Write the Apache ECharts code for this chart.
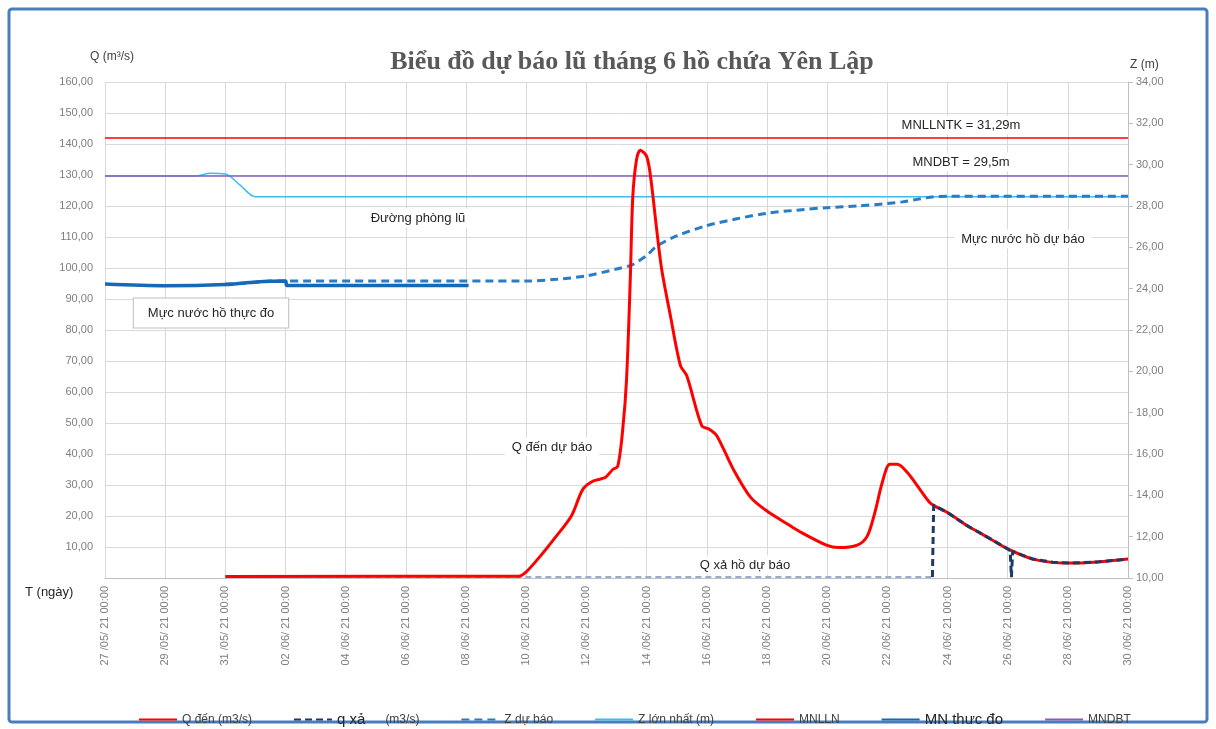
<!DOCTYPE html>
<html>
<head>
<meta charset="utf-8">
<title>Biểu đồ dự báo lũ tháng 6 hồ chứa Yên Lập</title>
<script src="https://cdn.jsdelivr.net/npm/echarts@6/dist/echarts.min.js"></script>
<style>
  html, body { margin: 0; padding: 0; background: #fff; }
  #chart { width: 1216px; height: 729px; }
</style>
</head>
<body>
<div id="chart"></div>
<script>
// thời gian dạng 'dd/mm hh:mm' (năm 2021), trục X tính theo ngày kể từ 27/05/2021
const qDenTime = ['31/05 00:00', '09/06 18:00', '10/06 00:00', '10/06 09:00', '10/06 21:00', '11/06 12:00',
  '11/06 21:00', '12/06 05:00', '12/06 15:00', '12/06 21:00', '13/06 01:00', '13/06 05:00', '13/06 08:00',
  '13/06 11:00', '13/06 13:00', '13/06 16:00', '13/06 19:00', '14/06 00:00', '14/06 03:00', '14/06 08:00',
  '14/06 12:00', '14/06 19:00', '15/06 03:00', '15/06 08:00', '15/06 20:00', '16/06 02:00', '16/06 08:00',
  '16/06 21:00', '17/06 11:00', '18/06 00:00', '18/06 16:00', '19/06 02:00', '20/06 00:00', '20/06 09:00',
  '21/06 00:00', '21/06 08:00', '21/06 14:00', '21/06 20:00', '22/06 02:00', '22/06 08:00', '22/06 16:00',
  '23/06 02:00', '23/06 10:00', '23/06 14:00', '24/06 00:00', '24/06 16:00', '25/06 00:00', '25/06 12:00',
  '26/06 00:00', '26/06 20:00', '28/06 00:00', '29/06 00:00', '30/06 00:00'];
const qDen = [0.5, 0.6, 2.0, 6.0, 12.0, 20.0,
  28.5, 31.2, 32.4, 35.0, 36.0, 48.0, 64.0,
  96.5, 123.0, 135.0, 138.0, 136.0, 130.0, 112.6,
  99.7, 84.6, 68.5, 65.3, 49.1, 48.0, 45.9,
  35.2, 26.0, 21.6, 17.5, 15.0, 10.5, 9.8,
  10.6, 13.5, 21.0, 30.8, 36.7, 36.7, 34.0,
  28.6, 24.3, 23.2, 21.1, 16.8, 15.0, 12.2,
  9.4, 6.1, 4.8, 5.2, 6.1];

// q xả: đoạn chưa xả (gần 0) và đoạn xả từ 23/06
const qXaTruocTime = ['31/05 00:00', '23/06 12:00'];
const qXaTruoc = [0.3, 0.3];
const qXaTime = ['23/06 12:00', '23/06 13:00', '24/06 00:00', '24/06 16:00', '25/06 00:00',
  '25/06 12:00', '26/06 00:00', '26/06 02:00', '26/06 03:00', '26/06 04:00', '26/06 20:00', '27/06 12:00',
  '28/06 00:00', '29/06 00:00', '30/06 00:00'];
const qXa = [0.3, 23.5, 21.1, 16.8, 15.0,
  12.2, 9.4, 8.8, 0.3, 8.6, 6.1, 5.1,
  4.8, 5.2, 6.1];

const zDuBaoTime = ['31/05 00:00', '01/06 00:00', '01/06 12:00', '10/06 00:00', '11/06 00:00', '12/06 00:00',
  '13/06 00:00', '13/06 12:00', '13/06 18:00', '14/06 00:00', '14/06 08:00', '15/06 00:00', '16/06 00:00',
  '17/06 00:00', '18/06 00:00', '19/06 00:00', '20/06 00:00', '21/06 00:00', '22/06 00:00', '22/06 12:00',
  '23/06 00:00', '23/06 12:00', '24/06 00:00', '30/06 00:00'];
const zDuBao = [24.22, 24.30, 24.37, 24.37, 24.45, 24.62,
  24.95, 25.14, 25.35, 25.60, 26.05, 26.55, 27.05,
  27.38, 27.65, 27.80, 27.92, 28.00, 28.12, 28.20,
  28.32, 28.44, 28.47, 28.47];

const zMaxTime = ['27/05 00:00', '30/05 00:00', '30/05 12:00', '31/05 00:00', '31/05 12:00', '01/06 00:00', '30/06 00:00'];
const zMax = [29.45, 29.45, 29.58, 29.55, 29.0, 28.45, 28.45];

const mnThucDoTime = ['27/05 00:00', '29/05 00:00', '31/05 00:00', '01/06 00:00', '02/06 00:00', '02/06 01:00', '08/06 02:00'];
const mnThucDo = [24.22, 24.14, 24.20, 24.32, 24.37, 24.15, 24.15];

const mnlln = 31.29;   // MNLLNTK
const mndbt = 29.45;   // MNDBT

const xStart = '27/05 00:00';
const xEnd = '30/06 00:00';

const BASE = Date.UTC(2021, 4, 27);
function toDay(s) {
  const [dm, hm] = s.split(' ');
  const [dd, mm] = dm.split('/').map(Number);
  const [hh, mi] = hm.split(':').map(Number);
  return (Date.UTC(2021, mm - 1, dd, hh, mi) - BASE) / 86400000;
}
function pairs(times, values) {
  return times.map((t, i) => [toDay(t), values[i]]);
}
function pad(n) { return (n < 10 ? '0' : '') + n; }
function comma(v) { return v.toFixed(2).replace('.', ','); }

const FONT = "'Liberation Sans', Arial, sans-serif";
const gridColor = '#d9d9d9';

const myChart = echarts.init(document.getElementById('chart'));

function note(text, x, y, extra) {
  return {
    type: 'text',
    z: 100,
    style: Object.assign({
      text: text, x: x, y: y,
      align: 'center', verticalAlign: 'middle',
      font: '13px ' + FONT, fill: '#262626',
      backgroundColor: '#fff', padding: [3, 7]
    }, extra || {})
  };
}

const option = {
  animation: false,
  grid: { left: 105, right: 88, top: 82, bottom: 151 },
  legend: {
    top: 707,
    left: 133,
    itemWidth: 38,
    itemHeight: 10,
    itemGap: 41,
    itemStyle: { opacity: 0 },
    textStyle: {
      fontFamily: FONT, fontSize: 12, color: '#404040',
      rich: { big: { fontFamily: FONT, fontSize: 15, color: '#262626' } }
    },
    formatter: function (name) {
      if (name.indexOf('q xả') === 0) return '{big|q xả}      (m3/s)';
      if (name === 'MN thưc đo') return '{big|MN thưc đo}';
      return name;
    },
    data: ['Q đến (m3/s)', 'q xả (m3/s)', 'Z dự báo', 'Z lớn nhất (m)', 'MNLLN', 'MN thưc đo', 'MNDBT']
  },
  xAxis: {
    type: 'value',
    min: toDay(xStart),
    max: toDay(xEnd),
    interval: 2,
    axisLine: { show: true, lineStyle: { color: '#bfbfbf' } },
    axisTick: { show: false },
    splitLine: { show: true, lineStyle: { color: gridColor } },
    axisLabel: {
      rotate: 90,
      margin: 8,
      fontFamily: FONT, fontSize: 11, color: '#7f7f7f',
      formatter: function (v) {
        const d = new Date(BASE + v * 86400000);
        return pad(d.getUTCDate()) + ' /' + pad(d.getUTCMonth() + 1) + '/ 21 00:00';
      }
    }
  },
  yAxis: [{
    type: 'value',
    min: 0, max: 160, interval: 10,
    axisLine: { show: false },
    axisTick: { show: false },
    splitLine: { show: true, lineStyle: { color: gridColor } },
    axisLabel: {
      margin: 12,
      fontFamily: FONT, fontSize: 11, color: '#7f7f7f',
      formatter: function (v) { return v === 0 ? '' : comma(v); }
    }
  }, {
    type: 'value',
    position: 'right',
    min: 10, max: 34, interval: 2,
    axisLine: { show: true, lineStyle: { color: '#bfbfbf' } },
    axisTick: { show: true, length: 5, lineStyle: { color: '#bfbfbf' } },
    splitLine: { show: false },
    axisLabel: {
      margin: 8,
      fontFamily: FONT, fontSize: 11, color: '#7f7f7f',
      formatter: function (v) { return comma(v); }
    }
  }],
  series: [{
    name: 'Q đến (m3/s)',
    type: 'line', yAxisIndex: 0, z: 5,
    symbol: 'none', smooth: 0.3,
    color: '#ff0000',
    lineStyle: { width: 3, color: '#ff0000' },
    data: pairs(qDenTime, qDen)
  }, {
    name: 'q xả (m3/s)',
    type: 'line', yAxisIndex: 0, z: 6,
    symbol: 'none',
    color: '#1f3864',
    lineStyle: { width: 3, color: '#1f3864', type: [7, 4] },
    data: pairs(qXaTime, qXa)
  }, {
    name: 'q xả (m3/s)',
    type: 'line', yAxisIndex: 0, z: 4,
    symbol: 'none',
    color: '#1f3864',
    lineStyle: { width: 2, color: '#9aaace', type: [6, 4] },
    data: pairs(qXaTruocTime, qXaTruoc)
  }, {
    name: 'Z dự báo',
    type: 'line', yAxisIndex: 1, z: 4,
    symbol: 'none', smooth: 0.3,
    color: '#2a7cc6',
    lineStyle: { width: 3, color: '#2a7cc6', type: [8, 5] },
    data: pairs(zDuBaoTime, zDuBao)
  }, {
    name: 'Z lớn nhất (m)',
    type: 'line', yAxisIndex: 1, z: 2,
    symbol: 'none', smooth: 0.3,
    color: '#3cbcef',
    lineStyle: { width: 1.5, color: '#3cbcef' },
    data: pairs(zMaxTime, zMax)
  }, {
    name: 'MNLLN',
    type: 'line', yAxisIndex: 1, z: 3,
    symbol: 'none',
    color: '#ff0000',
    lineStyle: { width: 1.5, color: '#ff0000' },
    data: [[toDay(xStart), mnlln], [toDay(xEnd), mnlln]]
  }, {
    name: 'MN thưc đo',
    type: 'line', yAxisIndex: 1, z: 4,
    symbol: 'none', smooth: 0.3,
    color: '#1769b5',
    lineStyle: { width: 3.5, color: '#1769b5' },
    data: pairs(mnThucDoTime, mnThucDo)
  }, {
    name: 'MNDBT',
    type: 'line', yAxisIndex: 1, z: 3,
    symbol: 'none',
    color: '#8a5cb8',
    lineStyle: { width: 1.5, color: '#8a5cb8' },
    data: [[toDay(xStart), mndbt], [toDay(xEnd), mndbt]]
  }],
  graphic: [
    {
      type: 'rect', z: 0, silent: true,
      shape: { x: 9, y: 9, width: 1198, height: 713, r: 3 },
      style: { fill: 'none', stroke: '#4a7ebb', lineWidth: 3 }
    },
    {
      type: 'text', z: 100,
      style: {
        text: 'Biểu đồ dự báo lũ tháng 6 hồ chứa Yên Lập', x: 632, y: 62,
        align: 'center', verticalAlign: 'middle',
        font: 'bold 26px "Liberation Serif", "Times New Roman", serif', fill: '#595959'
      }
    },
    { type: 'text', z: 100, style: { text: 'Q (m³/s)', x: 90, y: 57, align: 'left', verticalAlign: 'middle', font: '12px ' + FONT, fill: '#404040' } },
    { type: 'text', z: 100, style: { text: 'Z (m)', x: 1130, y: 65, align: 'left', verticalAlign: 'middle', font: '12px ' + FONT, fill: '#404040' } },
    { type: 'text', z: 100, style: { text: 'T (ngày)', x: 25, y: 592, align: 'left', verticalAlign: 'middle', font: '13px ' + FONT, fill: '#262626' } },
    note('MNLLNTK = 31,29m', 961, 125),
    note('MNDBT = 29,5m', 961, 162),
    note('Đường phòng lũ', 418, 218),
    note('Mực nước hồ thực đo', 211, 313, { padding: [8, 14], borderColor: '#bfbfbf', borderWidth: 1 }),
    note('Q đến dự báo', 552, 447),
    note('Q xả hồ dự báo', 745, 565),
    note('Mực nước hồ dự báo', 1023, 239)
  ]
};

myChart.setOption(option);
window.addEventListener('resize', function () {
  myChart.resize();
});
</script>
</body>
</html>
